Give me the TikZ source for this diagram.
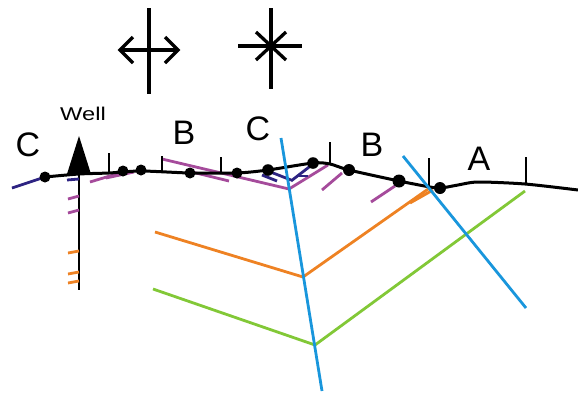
\documentclass[tikz,border=0pt]{standalone}
\usepackage{fontspec}
\setmainfont{Liberation Sans}
\begin{document}
\definecolor{navy}{RGB}{45,35,130}
\definecolor{bedpurple}{RGB}{165,75,155}
\definecolor{bedorange}{RGB}{238,130,35}
\definecolor{bedgreen}{RGB}{130,200,55}
\definecolor{axisblue}{RGB}{25,150,220}
\begin{tikzpicture}[x=1pt,y=-1pt,
  topo/.style={line width=3pt,black,line join=round},
  tickmark/.style={line width=2.3pt,black},
  symbol/.style={line width=3.3pt,black},
  dip/.style={line width=2.8pt},
  axis/.style={line width=2.8pt,axisblue},
  dotmark/.style={fill=black,draw=none},
  label/.style={font=\fontsize{34}{34}\selectfont,inner sep=0pt},
  welltext/.style={font=\fontsize{18.5}{18.5}\selectfont,inner sep=0pt}]
\useasboundingbox (0,0) rectangle (578,394);

% kinematic symbols
\draw[symbol] (149,8) -- (149,94);
\draw[symbol] (120,50) -- (178,50);
\draw[symbol] (133,37) -- (120,50) -- (133,63);
\draw[symbol] (165,37) -- (178,50) -- (165,63);
\draw[symbol] (271,8) -- (271,89);
\draw[symbol] (238,46) -- (302,46);
\draw[symbol] (256,32) -- (286,60);
\draw[symbol] (286,32) -- (256,60);

% labels
\node[label] (c1) at (28,145) {C};
\node[welltext] (well) at (83,114) {\scalebox{1.28}[1]{Well}};
\node[label] (b1) at (184,133) {B};
\node[label] (c2) at (258,129) {C};
\node[label] (b2) at (372,145) {B};
\node[label] (a1) at (479,159) {A};

% fold axes
\coordinate (ax1t) at (281,138);
\coordinate (ax1b) at (322,391);
\coordinate (ax2t) at (403,156);
\coordinate (ax2b) at (526,308);

% orange and green folded beds
\coordinate (o1) at (155,232);
\coordinate (o2) at (303,277);
\coordinate (o3) at (431,187);
\coordinate (g1) at (153,289);
\coordinate (g2) at (315,345);
\coordinate (g3) at (525,191);
\draw[dip,bedorange,line join=round] (o1) -- (o2) -- (o3);
\draw[dip,bedorange] (410,203) -- (433,190);
\draw[dip,bedgreen,line join=round] (g1) -- (g2) -- (g3);

% purple dip traces
\coordinate (p1) at (162,159);
\coordinate (p2) at (289,189);
\coordinate (p3) at (328,165);
\draw[dip,bedpurple,line join=round] (p1) -- (p2) -- (p3);
\draw[dip,bedpurple] (192,172) -- (229,181);
\draw[dip,bedpurple] (90,182) -- (123,172);
\draw[dip,bedpurple] (106,178) -- (134,172);
\draw[dip,bedpurple] (322,190) -- (342,173);
\draw[dip,bedpurple] (371,202) -- (395,186);

% navy dip traces
\draw[dip,navy] (12,188) -- (45,177);
\draw[dip,navy] (262,175) -- (277,181);
\draw[dip,navy] (268,171) -- (291,180);
\draw[dip,navy] (291,181) -- (313,164);
\draw[dip,navy] (297,176) -- (308,176);

% well
\coordinate (wtop) at (79,173);
\coordinate (wbot) at (79,290);
\draw[tickmark] (wtop) -- (wbot);
\draw[dip,navy] (67,180) -- (79,179);
\draw[dip,bedpurple] (68,199) -- (79,196);
\draw[dip,bedpurple] (68,213) -- (79,210);
\draw[dip,bedorange] (68,253) -- (79,251);
\draw[dip,bedorange] (68,274) -- (79,272);
\draw[dip,bedorange] (68,283) -- (79,281);
\fill (67,174) -- (79,136) -- (91,174) -- cycle;

% topographic profile
\draw[topo] plot[smooth,tension=0.45] coordinates {
  (45,177) (79,174) (109,173) (141,171) (190,173) (237,173)
  (268,170) (313,163) (330,164) (349,170) (399,181) (430,187)
  (441,188) (458,185) (478,182) (525,184) (578,190)};

% domain boundary ticks
\draw[tickmark] (109,153) -- (109,173);
\draw[tickmark] (162,156) -- (162,172);
\draw[tickmark] (221,157) -- (221,173);
\draw[tickmark] (330,142) -- (330,164);
\draw[tickmark] (429,158) -- (429,186);
\draw[tickmark] (526,157) -- (526,184);

% fold axes on top
\draw[axis] (ax1t) -- (ax1b);
\draw[axis] (ax2t) -- (ax2b);

% sample points
\foreach \p/\r in {(45,177)/5.5, (123,171)/5.5, (141,170)/5.5, (190,173)/5.5,
  (237,173)/5.5, (268,170)/5.8, (313,163)/5.8, (349,170)/6,
  (399,181)/6.5, (440,188)/6}
  \fill[dotmark] \p circle (\r);
\end{tikzpicture}
\end{document}
